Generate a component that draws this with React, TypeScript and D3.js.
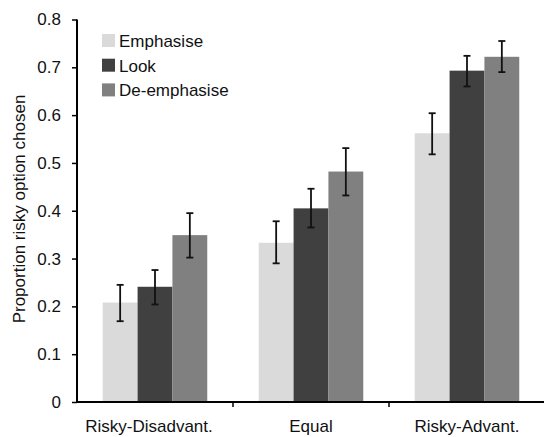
import * as d3 from 'd3'
import { useEffect, useRef } from 'react'

const categories = ['Risky-Disadvant.', 'Equal', 'Risky-Advant.']
const conditions = ['Emphasise', 'Look', 'De-emphasise']
const colors = ['#dadada', '#404040', '#808080']

// means per condition, one value per category
const emphasise = [0.208, 0.333, 0.562]
const look = [0.241, 0.405, 0.693]
const deEmphasise = [0.349, 0.482, 0.722]

// error bar ends (low, high)
const emphasiseErr = [[0.169, 0.245], [0.290, 0.378], [0.518, 0.604]]
const lookErr = [[0.204, 0.276], [0.365, 0.446], [0.660, 0.724]]
const deEmphasiseErr = [[0.302, 0.395], [0.432, 0.531], [0.690, 0.755]]

const yTicks = [0, 0.1, 0.2, 0.3, 0.4, 0.5, 0.6, 0.7, 0.8]

export default function App() {
  const ref = useRef<SVGSVGElement | null>(null)

  useEffect(() => {
    if (!ref.current) return
    const svg = d3.select(ref.current)
    svg.selectAll('*').remove()
    const W = 544, H = 437
    const m = { top: 19.5, right: -1, bottom: 35, left: 77 }
    const iw = W - m.left - m.right, ih = H - m.top - m.bottom
    const font = 'Liberation Sans, Arial, sans-serif'
    const g = svg.append('g').attr('transform', `translate(${m.left},${m.top})`)

    const x = d3.scaleBand().domain(categories).range([0, iw]).paddingInner(0.33).paddingOuter(0.165)
    const xs = d3.scaleBand().domain(conditions).range([0, x.bandwidth()])
    const y = d3.scaleLinear().domain([0, 0.8]).range([ih, 0])

    const series = [emphasise, look, deEmphasise]
    const errs = [emphasiseErr, lookErr, deEmphasiseErr]

    conditions.forEach((c, si) => {
      categories.forEach((cat, ci) => {
        const bx = (x(cat) ?? 0) + (xs(c) ?? 0)
        const v = series[si][ci]
        g.append('rect').attr('x', bx).attr('y', y(v))
          .attr('width', xs.bandwidth()).attr('height', ih - y(v))
          .attr('fill', colors[si])
      })
    })

    // error bars
    conditions.forEach((c, si) => {
      categories.forEach((cat, ci) => {
        const cx = (x(cat) ?? 0) + (xs(c) ?? 0) + xs.bandwidth() / 2
        const [lo, hi] = errs[si][ci]
        const eb = g.append('g').attr('stroke', '#111').attr('stroke-width', 1.8)
        eb.append('line').attr('x1', cx).attr('x2', cx).attr('y1', y(lo)).attr('y2', y(hi))
        eb.append('line').attr('x1', cx - 3.5).attr('x2', cx + 3.5).attr('y1', y(lo)).attr('y2', y(lo))
        eb.append('line').attr('x1', cx - 3.5).attr('x2', cx + 3.5).attr('y1', y(hi)).attr('y2', y(hi))
      })
    })

    // y axis
    const ya = g.append('g')
      .call(d3.axisLeft(y).tickValues(yTicks).tickSize(5).tickPadding(11)
        .tickFormat(d => (d as number) === 0 ? '0' : d3.format('.1f')(d as number)))
    ya.select('.domain').attr('stroke', '#000').attr('stroke-width', 2).attr('d', `M0,${ih}V0`)
    ya.selectAll('.tick line').attr('stroke', '#000').attr('stroke-width', 1.5)
    ya.selectAll('.tick text').attr('font-family', font).attr('font-size', 17).attr('fill', '#111')

    // x axis
    const xa = g.append('g').attr('transform', `translate(0,${ih})`)
    xa.append('line').attr('x1', 0).attr('x2', iw).attr('stroke', '#000').attr('stroke-width', 2)
    const step = x.step()
    categories.slice(1).forEach((_, i) => {
      const tx = step * (i + 1)
      xa.append('line').attr('x1', tx).attr('x2', tx).attr('y1', 0).attr('y2', 5)
        .attr('stroke', '#000').attr('stroke-width', 1.5)
    })
    const labelShift = [-6, 0, 0]
    categories.forEach((cat, i) => {
      xa.append('text')
        .attr('x', (x(cat) ?? 0) + x.bandwidth() / 2 + labelShift[i])
        .attr('y', 30).attr('text-anchor', 'middle')
        .attr('font-family', font).attr('font-size', 17).attr('fill', '#111')
        .text(cat)
    })

    // y title
    svg.append('text')
      .attr('transform', `translate(25,209) rotate(-90)`)
      .attr('text-anchor', 'middle')
      .attr('font-family', font).attr('font-size', 17).attr('fill', '#111')
      .text('Proportion risky option chosen')

    // legend
    const lg = svg.append('g').attr('transform', 'translate(102,34)')
    conditions.forEach((c, i) => {
      const row = lg.append('g').attr('transform', `translate(0,${i * 24.7})`)
      row.append('rect').attr('width', 13).attr('height', 13).attr('fill', colors[i])
      row.append('text').attr('x', 17).attr('y', 13)
        .attr('font-family', font).attr('font-size', 17).attr('fill', '#111')
        .text(c)
    })
  }, [])

  return (
    <svg ref={ref} width={544} height={437}
      style={{ position: 'absolute', left: 0, top: 0, background: '#fff' }} />
  )
}
